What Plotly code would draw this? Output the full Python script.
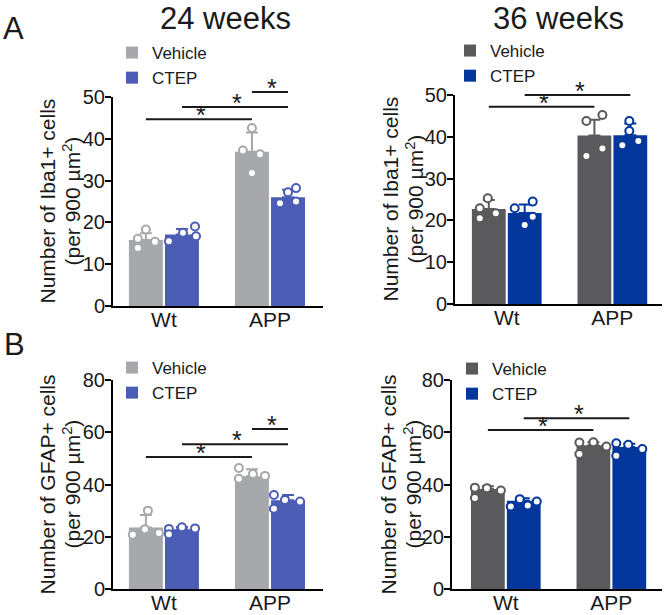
import plotly.graph_objects as go

W, H = 666, 615
FONT = "Liberation Sans, Arial, sans-serif"

GROUPS = ["Wt", "APP"]
SERIES = ["Vehicle", "CTEP"]

# ---------------- data ----------------
# A, 24 weeks: Iba1+ cells
iba1_24_veh_mean = [15.8, 36.9]
iba1_24_veh_sd = [1.6, 4.6]
iba1_24_ctep_mean = [17.1, 26.0]
iba1_24_ctep_sd = [1.3, 1.8]
iba1_24_veh_pts = [[16.1, 18.3, 13.9, 15.4], [42.6, 37.2, 36.3, 31.8]]
iba1_24_ctep_pts = [[15.5, 17.5, 19.0, 16.7], [24.6, 27.2, 28.2, 25.0]]
iba1_24_sig = [("Vehicle", 0, "Vehicle", 1, 44.7),
               ("CTEP", 0, "CTEP", 1, 47.6),
               ("Vehicle", 1, "CTEP", 1, 51.2)]

# A, 36 weeks: Iba1+ cells
iba1_36_veh_mean = [22.7, 40.3]
iba1_36_veh_sd = [2.2, 3.8]
iba1_36_ctep_mean = [21.8, 40.4]
iba1_36_ctep_sd = [2.0, 2.8]
iba1_36_veh_pts = [[22.9, 25.3, 20.5, 21.7], [43.8, 45.2, 35.4, 37.2]]
iba1_36_ctep_pts = [[22.9, 24.5, 18.9, 20.9], [43.8, 41.4, 38.0, 39.0]]
iba1_36_sig = [("Vehicle", 0, "Vehicle", 1, 47.2),
               ("CTEP", 0, "CTEP", 1, 50.0)]

# B, 24 weeks: GFAP+ cells
gfap_24_veh_mean = [23.5, 43.2]
gfap_24_veh_sd = [4.8, 2.6]
gfap_24_ctep_mean = [22.9, 34.0]
gfap_24_ctep_sd = [0.8, 2.0]
gfap_24_veh_pts = [[30.0, 20.8, 22.9, 21.4], [46.3, 42.2, 44.0, 43.3]]
gfap_24_ctep_pts = [[23.0, 21.0, 23.6, 23.2], [36.0, 30.7, 34.1, 33.5]]
gfap_24_sig = [("Vehicle", 0, "Vehicle", 1, 50.5),
               ("CTEP", 0, "CTEP", 1, 55.4),
               ("Vehicle", 1, "CTEP", 1, 61.2)]

# B, 36 weeks: GFAP+ cells
gfap_36_veh_mean = [38.3, 55.0]
gfap_36_veh_sd = [1.0, 1.2]
gfap_36_ctep_mean = [33.8, 54.4]
gfap_36_ctep_sd = [0.9, 1.2]
gfap_36_veh_pts = [[38.8, 34.8, 38.6, 37.7], [56.1, 51.7, 56.2, 54.5]]
gfap_36_ctep_pts = [[31.6, 34.4, 32.0, 33.5], [55.8, 51.0, 55.2, 53.6]]
gfap_36_sig = [("Vehicle", 0, "Vehicle", 1, 60.9),
               ("CTEP", 0, "CTEP", 1, 65.4)]

# ---------------- styling / layout ----------------
LIGHT = {"Vehicle": "#a7a8ac", "CTEP": "#4b5db4"}
DARK = {"Vehicle": "#5a5a5c", "CTEP": "#03379c"}
INK = "#1a1a1a"

BAR_W = 0.32
BAR_OFF = {"Vehicle": -0.33, "CTEP": 0.01}
BAR_CENTER = {s: BAR_OFF[s] + BAR_W / 2 for s in SERIES}

# horizontal spread of the dots inside each bar (pixels)
SPREAD = {
    "iba1_24": {"Vehicle": [[-8, 0, -8, 9], [0, -9, 8, 0]],
                "CTEP": [[-13, 1, 13, 14], [-8, 0, 8, 8]]},
    "iba1_36": {"Vehicle": [[-9, -1, -9, 7], [-8, 8, -8, 8]],
                "CTEP": [[-10, 8, 0, 8], [-1, -1, -8, 8]]},
    "gfap_24": {"Vehicle": [[2, -13, -1, 13], [-13, -13, 1, 13]],
                "CTEP": [[-13, -13, 0, 13], [-14, -14, -3, 12]]},
    "gfap_36": {"Vehicle": [[-13, -13, -1, 13], [-14, -14, 0, 13]],
                "CTEP": [[-13, -4, 4, 13], [-13, -13, -1, 13]]},
}
PX_PER_UNIT = 105.5

IBA_T1, IBA_T2 = "Number of Iba1+ cells", "(per 900 µm<sup>2</sup>)"
GFAP_T1, GFAP_T2 = "Number of GFAP+ cells", "(per 900 µm<sup>2</sup>)"

panels = [
    dict(key="iba1_24", ax="", colors=LIGHT, xpx=(113, 323), ypx=(97, 306),
         xr=[-0.48, 1.50], ymax=50, dt=10, yt=(IBA_T1, IBA_T2), ytx=(47, 71),
         mean={"Vehicle": iba1_24_veh_mean, "CTEP": iba1_24_ctep_mean},
         sd={"Vehicle": iba1_24_veh_sd, "CTEP": iba1_24_ctep_sd},
         pts={"Vehicle": iba1_24_veh_pts, "CTEP": iba1_24_ctep_pts},
         sig=iba1_24_sig, legend="legend", leg=(112, 35)),
    dict(key="iba1_36", ax="2", colors=DARK, xpx=(455, 662), ypx=(95, 304),
         xr=[-0.49, 1.47], ymax=50, dt=10, yt=(IBA_T1, IBA_T2), ytx=(390, 414),
         mean={"Vehicle": iba1_36_veh_mean, "CTEP": iba1_36_ctep_mean},
         sd={"Vehicle": iba1_36_veh_sd, "CTEP": iba1_36_ctep_sd},
         pts={"Vehicle": iba1_36_veh_pts, "CTEP": iba1_36_ctep_pts},
         sig=iba1_36_sig, legend="legend2", leg=(450, 33)),
    dict(key="gfap_24", ax="3", colors=LIGHT, xpx=(113, 323), ypx=(380, 589),
         xr=[-0.48, 1.50], ymax=80, dt=20, yt=(GFAP_T1, GFAP_T2), ytx=(47, 71),
         mean={"Vehicle": gfap_24_veh_mean, "CTEP": gfap_24_ctep_mean},
         sd={"Vehicle": gfap_24_veh_sd, "CTEP": gfap_24_ctep_sd},
         pts={"Vehicle": gfap_24_veh_pts, "CTEP": gfap_24_ctep_pts},
         sig=gfap_24_sig, legend="legend3", leg=(112, 350)),
    dict(key="gfap_36", ax="4", colors=DARK, xpx=(452, 662), ypx=(380, 589),
         xr=[-0.51, 1.48], ymax=80, dt=20, yt=(GFAP_T1, GFAP_T2), ytx=(388, 412),
         mean={"Vehicle": gfap_36_veh_mean, "CTEP": gfap_36_ctep_mean},
         sd={"Vehicle": gfap_36_veh_sd, "CTEP": gfap_36_ctep_sd},
         pts={"Vehicle": gfap_36_veh_pts, "CTEP": gfap_36_ctep_pts},
         sig=gfap_36_sig, legend="legend4", leg=(452, 351)),
]

fig = go.Figure()
layout = dict(width=W, height=H, margin=dict(l=0, r=0, t=0, b=0, autoexpand=False),
              paper_bgcolor="white", plot_bgcolor="white",
              font=dict(family=FONT, color=INK), showlegend=True)
shapes, annotations = [], []

for p in panels:
    ax = p["ax"]
    xref, yref = "x" + ax, "y" + ax
    idx = list(range(len(GROUPS)))
    for s in SERIES:
        col = p["colors"][s]
        fig.add_trace(go.Bar(
            x=idx, y=p["mean"][s], width=BAR_W, offset=BAR_OFF[s],
            name=s, marker=dict(color=col, line=dict(width=0)),
            error_y=dict(type="data", array=p["sd"][s],
                         arrayminus=[0] * len(idx), symmetric=False,
                         color=col, thickness=2, width=6),
            xaxis=xref, yaxis=yref, legend=p["legend"], hoverinfo="y"))
    for s in SERIES:
        col = p["colors"][s]
        xs, ys = [], []
        for g in idx:
            for v, j in zip(p["pts"][s][g], SPREAD[p["key"]][s][g]):
                xs.append(g + BAR_CENTER[s] + j / PX_PER_UNIT)
                ys.append(v)
        fig.add_trace(go.Scatter(
            x=xs, y=ys, mode="markers", showlegend=False,
            marker=dict(size=8, color="white", line=dict(color=col, width=2)),
            xaxis=xref, yaxis=yref, hoverinfo="y"))

    ydom = [1 - p["ypx"][1] / H, 1 - p["ypx"][0] / H]
    layout["xaxis" + ax] = dict(
        domain=[p["xpx"][0] / W, p["xpx"][1] / W], range=p["xr"],
        anchor=yref, tickmode="array", tickvals=idx, ticktext=GROUPS,
        ticks="", showline=True, linecolor="black", linewidth=2,
        showgrid=False, zeroline=False, automargin=False,
        ticklabelstandoff=-6,
        tickfont=dict(size=21, family=FONT, color=INK))
    layout["yaxis" + ax] = dict(
        domain=ydom, range=[0, p["ymax"]], anchor=xref, dtick=p["dt"],
        ticks="outside", ticklen=6, tickwidth=2, tickcolor="black",
        showline=True, linecolor="black", linewidth=2,
        showgrid=False, zeroline=False, automargin=False,
        ticklabelstandoff=-4,
        tickfont=dict(size=20, family=FONT, color=INK))
    layout[p["legend"]] = dict(
        x=p["leg"][0] / W, y=1 - p["leg"][1] / H, xanchor="left", yanchor="top",
        bgcolor="rgba(0,0,0,0)", tracegroupgap=0,
        font=dict(size=17, family=FONT, color=INK))

    # two-line rotated y-axis title
    ymid = (ydom[0] + ydom[1]) / 2
    for t, xp in zip(p["yt"], p["ytx"]):
        annotations.append(dict(xref="paper", yref="paper", x=xp / W, y=ymid,
                                text=t, textangle=-90, showarrow=False,
                                xanchor="center", yanchor="middle",
                                font=dict(size=21, family=FONT, color=INK)))

    # significance brackets (value -> paper height through the y scale, so
    # brackets above the axis top are not clipped)
    def to_paper(v, ydom=ydom, ymax=p["ymax"]):
        return ydom[0] + v / ymax * (ydom[1] - ydom[0])

    for (sa, ga, sb, gb, yv) in p["sig"]:
        x0 = ga + BAR_CENTER[sa]
        x1 = gb + BAR_CENTER[sb]
        yp = to_paper(yv)
        shapes.append(dict(type="line", xref=xref, yref="paper", x0=x0, x1=x1,
                           y0=yp, y1=yp, line=dict(color=INK, width=2)))
        annotations.append(dict(xref=xref, yref="paper", x=(x0 + x1) / 2 + 0.02,
                                y=yp, text="*", showarrow=False,
                                yanchor="middle", yshift=4,
                                font=dict(size=25, family=FONT, color=INK)))

annotations += [
    dict(xref="paper", yref="paper", x=225 / W, y=1, text="24 weeks",
         showarrow=False, xanchor="center", yanchor="top", borderpad=0,
         font=dict(size=31, family=FONT, color=INK)),
    dict(xref="paper", yref="paper", x=558 / W, y=1, text="36 weeks",
         showarrow=False, xanchor="center", yanchor="top", borderpad=0,
         font=dict(size=31, family=FONT, color=INK)),
    dict(xref="paper", yref="paper", x=13 / W, y=1 - 28 / H, text="A",
         showarrow=False, xanchor="center", yanchor="middle",
         font=dict(size=31, family=FONT, color=INK)),
    dict(xref="paper", yref="paper", x=14 / W, y=1 - 344 / H, text="B",
         showarrow=False, xanchor="center", yanchor="middle",
         font=dict(size=31, family=FONT, color=INK)),
]
layout["shapes"] = shapes
layout["annotations"] = annotations
fig.update_layout(**layout)
fig.write_html("out.html", config={"displayModeBar": False},
               post_script="document.body.style.margin='0';"
                           "document.body.style.padding='0';")
